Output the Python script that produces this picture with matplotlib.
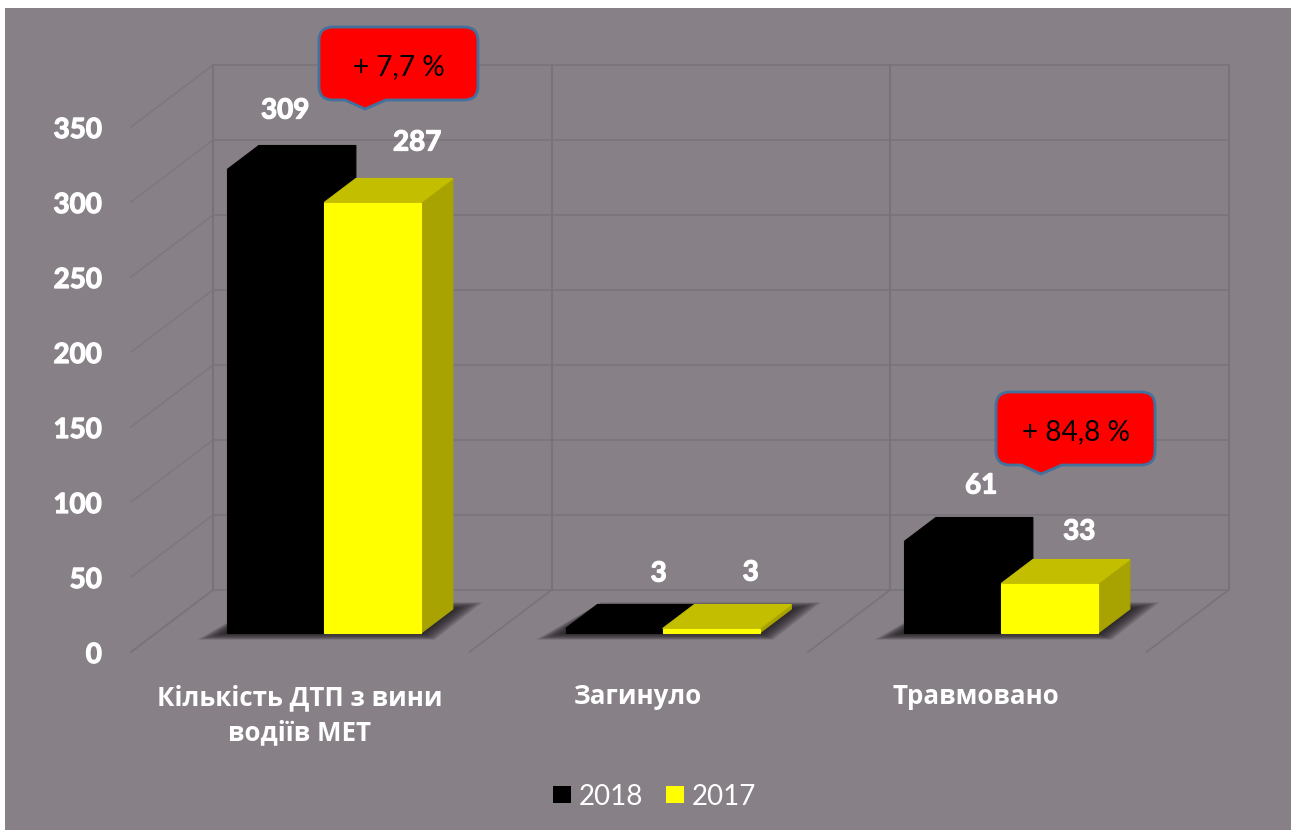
import matplotlib
matplotlib.use('Agg')
import matplotlib.pyplot as plt
import matplotlib.patheffects as pe
from matplotlib.patches import Polygon, Rectangle, PathPatch
from matplotlib.path import Path
from matplotlib.transforms import Affine2D

# Chart data
categories = ['Кількість ДТП з вини\nводіїв МЕТ', 'Загинуло', 'Травмовано']
values_2018 = [309, 3, 61]
values_2017 = [287, 3, 33]
y_ticks = [0, 50, 100, 150, 200, 250, 300, 350]
callouts = ['+ 7,7 %', '+ 84,8 %']

BG = '#878087'
GRID = '#787378'
BLACK = '#000000'
YELLOW = ('#ffff00', '#c4be00', '#a8a300')
# Lato comes out a bit thin, thicken the numbers
THICK = [pe.withStroke(linewidth=0.9, foreground='white')]

# pixels of the picture -> display coords (dpi 100)
px = Affine2D().scale(1, -1).translate(0, 832)

fig = plt.figure(figsize=(12.99, 8.32), dpi=100, facecolor='white')
fig.patches.append(Rectangle((5, 8), 1286, 822, transform=px, facecolor=BG, edgecolor='none', zorder=-1))

# axes over whole figure: x in categories, y in values (front plane)
ax = fig.add_axes([0, 0, 1, 1])
ax.patch.set_visible(False)
ax.axis('off')
cat_w = 338.5
ax.set_xlim(-131 / cat_w, (1299 - 131) / cat_w)
ax.set_ylim(-(832 - 652) / 1.5, 652 / 1.5)

# oblique depth of the floor, in data units
depth_x = 82 / cat_w
depth_y = 62 / 1.5


def pt(x, y, d):
    return (x + d * depth_x, y + d * depth_y)


# back wall, left wall and floor grid
n = len(categories)
for t in y_ticks:
    ax.plot([pt(0, t, 1)[0], pt(n, t, 1)[0]], [pt(0, t, 1)[1]] * 2, color=GRID, lw=1.1, zorder=1)
    ax.plot([0, pt(0, t, 1)[0]], [t, pt(0, t, 1)[1]], color=GRID, lw=1, alpha=0.7, zorder=1)
    ax.annotate(str(t), (0, t), xytext=(-29, -3), textcoords='offset pixels', color='white', fontsize=20,
                fontweight='bold', family='Lato', ha='right', va='center', zorder=6, path_effects=THICK)
for i in range(n + 1):
    ax.plot([pt(i, 0, 1)[0]] * 2, [pt(i, 0, 1)[1], pt(i, y_ticks[-1], 1)[1]], color=GRID, lw=1.5, zorder=1)
    ax.plot([i, pt(i, 0, 1)[0]], [0, pt(i, 0, 1)[1]], color=GRID, lw=1.2, zorder=1)

# bars
bar_w = 97 / cat_w
inset = 71 / cat_w
d0, d1 = 19 / 62, 43 / 62


def box(x, v, front, top, side, z):
    base = 0
    ax.add_patch(Polygon([pt(x + bar_w, base, d0), pt(x + bar_w, base, d1), pt(x + bar_w, v, d1), pt(x + bar_w, v, d0)],
                         facecolor=side, edgecolor=side, lw=0.8, zorder=z))
    ax.add_patch(Polygon([pt(x, v, d0), pt(x + bar_w, v, d0), pt(x + bar_w, v, d1), pt(x, v, d1)],
                         facecolor=top, edgecolor=top, lw=0.8, zorder=z + 0.1))
    ax.add_patch(Polygon([pt(x, base, d0), pt(x + bar_w, base, d0), pt(x + bar_w, v, d0), pt(x, v, d0)],
                         facecolor=front, edgecolor=front, lw=0.8, zorder=z + 0.2))


label_offsets_2018 = [(58, 59), (93, 55), (77, 56)]
label_offsets_2017 = [(93, 60), (88, 56), (78, 52)]

for i in range(n):
    x1 = i + inset
    x2 = x1 + bar_w
    # soft shadow on the floor, stacked see-through polygons
    for k in range(20):
        f = (20 - k) / 20
        ax.add_patch(Polygon([pt(x1 - f * 30 / cat_w, -f * 4.5, d0), pt(x2 + bar_w + f * 14 / cat_w, -f * 4.5, d0),
                              pt(x2 + bar_w + f * 30 / cat_w, f * 4.5, d1), pt(x1 + f * 4 / cat_w, f * 4.5, d1)],
                             facecolor='#1e1a1e', edgecolor='none', alpha=0.08, zorder=2))
    box(x1, values_2018[i], BLACK, BLACK, BLACK, 3)
    box(x2, values_2017[i], *YELLOW, 4)
    ax.annotate(str(values_2018[i]), pt(x1, values_2018[i], d0), xytext=label_offsets_2018[i],
                textcoords='offset pixels', color='white', fontsize=20, fontweight='bold',
                family='Lato', ha='center', va='center', zorder=6, path_effects=THICK)
    ax.annotate(str(values_2017[i]), pt(x2, values_2017[i], d0), xytext=label_offsets_2017[i],
                textcoords='offset pixels', color='white', fontsize=20, fontweight='bold',
                family='Lato', ha='center', va='center', zorder=6, path_effects=THICK)

# category labels
cat_pos = [(300, 715), (638, 696), (976, 696)]
for (cx, cy), c in zip(cat_pos, categories):
    fig.text(cx, cy, c, transform=px, color='white', fontsize=18.6, fontweight='bold', family='Open Sans',
             ha='center', va='center', linespacing=1.4)


# red callouts
def callout(left, top, tip_x, text):
    w, h, r = 159, 73, 14
    right, bottom = left + w, top + h
    verts = [(left + r, top), (right - r, top), (right, top), (right, top + r), (right, bottom - r), (right, bottom),
             (right - r, bottom), (tip_x + 21, bottom), (tip_x, bottom + 9), (tip_x - 20, bottom), (left + r, bottom),
             (left, bottom), (left, bottom - r), (left, top + r), (left, top), (left + r, top), (left + r, top)]
    codes = [Path.MOVETO, Path.LINETO, Path.CURVE3, Path.CURVE3, Path.LINETO, Path.CURVE3, Path.CURVE3, Path.LINETO,
             Path.LINETO, Path.LINETO, Path.LINETO, Path.CURVE3, Path.CURVE3, Path.LINETO, Path.CURVE3, Path.CURVE3,
             Path.CLOSEPOLY]
    ax.add_patch(PathPatch(Path(verts, codes), facecolor='#ff0000', edgecolor='#41719c', lw=2, transform=px, zorder=7))
    fig.text(left + w / 2, top + 40, text, transform=px, color='black', fontsize=20.2, family=['Lato', 'Open Sans'],
             ha='center', va='center', zorder=8)


callout(319, 27, 365, callouts[0])
callout(996, 392, 1041, callouts[1])

# legend
for sq, label, tx, c in [(553, '2018', 611, BLACK), (666, '2017', 724, YELLOW[0])]:
    fig.patches.append(Rectangle((sq, 786), 18, 17, transform=px, facecolor=c, edgecolor='none'))
    fig.text(tx, 797, label, transform=px, color='white', fontsize=20, family=['Lato', 'Open Sans'],
             ha='center', va='center')

plt.savefig('out.png', dpi=100, facecolor='white')
